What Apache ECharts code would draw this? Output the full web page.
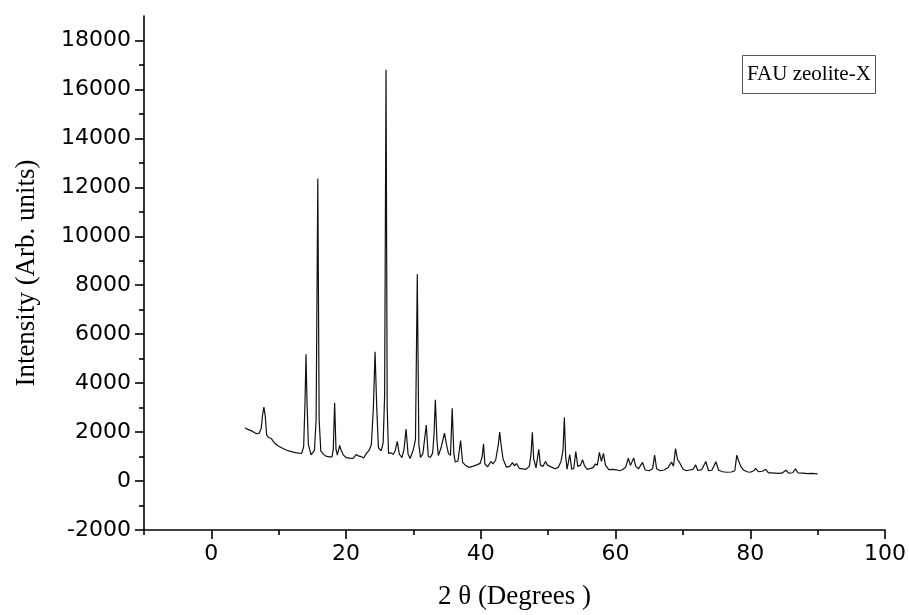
<!DOCTYPE html>
<html>
<head>
<meta charset="utf-8">
<script src="https://cdn.jsdelivr.net/npm/echarts@6/dist/echarts.min.js"></script>
<style>
html,body{margin:0;padding:0;background:#fff;}
#chart{width:909px;height:615px;}
</style>
</head>
<body>
<div id="chart"></div>
<script>
// 2θ positions (degrees)
const twoTheta = [
5.0,5.3,5.6,5.9,6.2,6.5,6.8,7.1,7.4,7.6,7.8,8.0,8.2,8.5,8.7,8.9,9.1,9.5,10.0,10.5,
11.0,11.5,12.0,12.5,13.0,13.4,13.7,13.9,14.05,14.2,14.4,14.8,15.0,15.3,15.55,15.8,16.0,16.25,16.45,16.7,
17.0,17.5,17.9,18.1,18.3,18.5,18.7,19.05,19.2,19.6,20.0,20.5,21.0,21.2,21.5,21.8,22.2,22.6,23.0,23.4,
23.75,24.05,24.3,24.55,24.8,25.2,25.5,25.72,25.93,26.1,26.3,26.6,27.0,27.3,27.6,27.9,28.3,28.6,28.9,29.2,
29.5,30.0,30.3,30.57,30.8,31.05,31.4,31.9,32.2,32.5,32.85,33.05,33.25,33.5,33.7,34.1,34.6,34.9,35.2,35.5,
35.75,36.0,36.2,36.6,37.0,37.3,37.7,38.2,38.8,39.4,39.9,40.2,40.4,40.6,41.0,41.5,41.8,42.2,42.6,42.8,
43.0,43.3,43.8,44.3,44.7,45.0,45.3,45.7,46.2,46.7,47.2,47.45,47.65,47.85,48.2,48.6,48.85,49.2,49.6,49.9,
50.4,51.0,51.5,51.9,52.2,52.4,52.6,52.8,53.2,53.5,53.8,54.1,54.4,54.8,55.1,55.4,55.8,56.3,56.7,57.0,
57.3,57.6,57.9,58.2,58.5,59.0,59.5,60.1,60.6,61.0,61.5,61.9,62.2,62.7,63.0,63.4,64.0,64.4,65.0,65.5,
65.8,66.1,66.6,67.2,67.8,68.3,68.6,68.9,69.2,69.5,70.0,70.5,71.0,71.5,71.9,72.2,72.8,73.4,73.8,74.3,
74.9,75.3,75.9,76.5,77.2,77.7,78.0,78.3,78.6,79.0,79.5,80.0,80.5,80.8,81.2,81.8,82.3,82.7,83.3,84.0,
84.7,85.3,85.7,86.3,86.7,87.1,87.8,88.5,89.2,90.0
];
// Intensity (arb. units)
const intensity = [
2180,2120,2090,2060,2010,1960,1930,1960,2150,2700,3020,2650,1900,1780,1720,1740,1650,1520,1420,1350,
1280,1230,1190,1160,1140,1130,1400,3200,5180,3200,1500,1070,1100,1250,2500,12350,2500,1220,1250,1080,
1020,990,990,1300,3200,1300,1060,1460,1300,1060,960,940,920,900,1080,1030,1000,940,1120,1250,
1480,3000,5280,3000,1360,1230,1560,3500,16800,3000,1130,1160,1090,1250,1620,1100,960,1300,2120,1100,
920,1300,1700,8450,1500,960,1120,2290,1000,960,1140,1900,3320,1600,1040,1360,1960,1500,1120,1050,
2970,1100,780,820,1650,760,650,560,600,660,720,1000,1520,700,580,800,700,850,1500,2000,
1500,900,570,600,750,620,720,520,500,480,600,1100,1990,900,540,1300,650,600,800,650,
580,500,560,800,1250,2600,1000,480,1080,480,520,1200,600,650,870,620,480,520,560,700,
650,1170,800,1130,650,470,480,460,420,460,560,930,640,940,600,500,760,450,420,500,
1060,500,420,450,550,780,600,1330,880,760,490,420,450,480,660,430,470,800,420,440,
790,440,380,360,370,420,1060,800,600,450,380,360,420,520,380,400,480,330,330,310,
320,440,320,340,500,330,320,300,310,290
];
// Axis tick labels
const yMajorTicks = [-2000,0,2000,4000,6000,8000,10000,12000,14000,16000,18000];
const yMinorTicks = [-1000,1000,3000,5000,7000,9000,11000,13000,15000,17000];
const xMajorTicks = [0,20,40,60,80,100];
const xMinorTicks = [-10,10,30,50,70,90];
const legendText = 'FAU zeolite-X';
const xName = '2 \u03B8 (Degrees )';
const yName = 'Intensity (Arb. units)';

const seriesData = twoTheta.map((t, i) => [t, intensity[i]]);

const chart = echarts.init(document.getElementById('chart'), null, {renderer: 'canvas'});
const labelFont = {fontFamily: '"DejaVu Sans", "Liberation Sans", sans-serif', fontSize: 22, color: '#000'};
const nameFont = {fontFamily: '"Liberation Serif", "Times New Roman", serif', fontSize: 27, color: '#000'};
const axisLineStyle = {color: '#000', width: 1.6};

chart.setOption({
  backgroundColor: '#fff',
  animation: false,
  title: {
    text: legendText,
    left: 742, top: 55,
    padding: [9, 5, 9, 5],
    borderColor: '#555', borderWidth: 1,
    textStyle: {fontFamily: '"Liberation Serif", "Times New Roman", serif', fontSize: 21, fontWeight: 'normal', color: '#000'}
  },
  grid: {left: 144, right: 23, top: 16, bottom: 84, containLabel: false},
  xAxis: [{
    type: 'value', min: -10, max: 100, interval: 10,
    position: 'bottom',
    name: xName, nameLocation: 'middle', nameGap: 53,
    nameTextStyle: nameFont,
    axisLine: {show: true, onZero: false, lineStyle: axisLineStyle},
    axisTick: {show: true, inside: false, length: 9, customValues: xMajorTicks, lineStyle: axisLineStyle},
    axisLabel: {show: true, margin: 13, customValues: xMajorTicks, formatter: v => String(v), ...labelFont},
    splitLine: {show: false}
  }, {
    type: 'value', min: -10, max: 100, interval: 10,
    position: 'bottom', offset: 0,
    axisLine: {show: false, onZero: false},
    axisTick: {show: true, inside: false, length: 5, customValues: xMinorTicks, lineStyle: axisLineStyle},
    axisLabel: {show: false},
    splitLine: {show: false}
  }],
  yAxis: [{
    type: 'value', min: -2000, max: 19000, interval: 1000,
    position: 'left',
    name: yName, nameLocation: 'middle', nameGap: 104, nameRotate: 90,
    nameTextStyle: nameFont,
    axisLine: {show: true, onZero: false, lineStyle: axisLineStyle},
    axisTick: {show: true, inside: false, length: 9, customValues: yMajorTicks, lineStyle: axisLineStyle},
    axisLabel: {show: true, margin: 13, customValues: yMajorTicks, formatter: v => String(v), ...labelFont},
    splitLine: {show: false}
  }, {
    type: 'value', min: -2000, max: 19000, interval: 1000,
    position: 'left', offset: 0,
    axisLine: {show: false, onZero: false},
    axisTick: {show: true, inside: false, length: 5, customValues: yMinorTicks, lineStyle: axisLineStyle},
    axisLabel: {show: false},
    splitLine: {show: false}
  }],
  series: [{
    type: 'line',
    xAxisIndex: 0, yAxisIndex: 0,
    data: seriesData,
    showSymbol: false, symbol: 'none',
    lineStyle: {color: '#111', width: 1.2},
    z: 3
  }]
});
</script>
</body>
</html>
